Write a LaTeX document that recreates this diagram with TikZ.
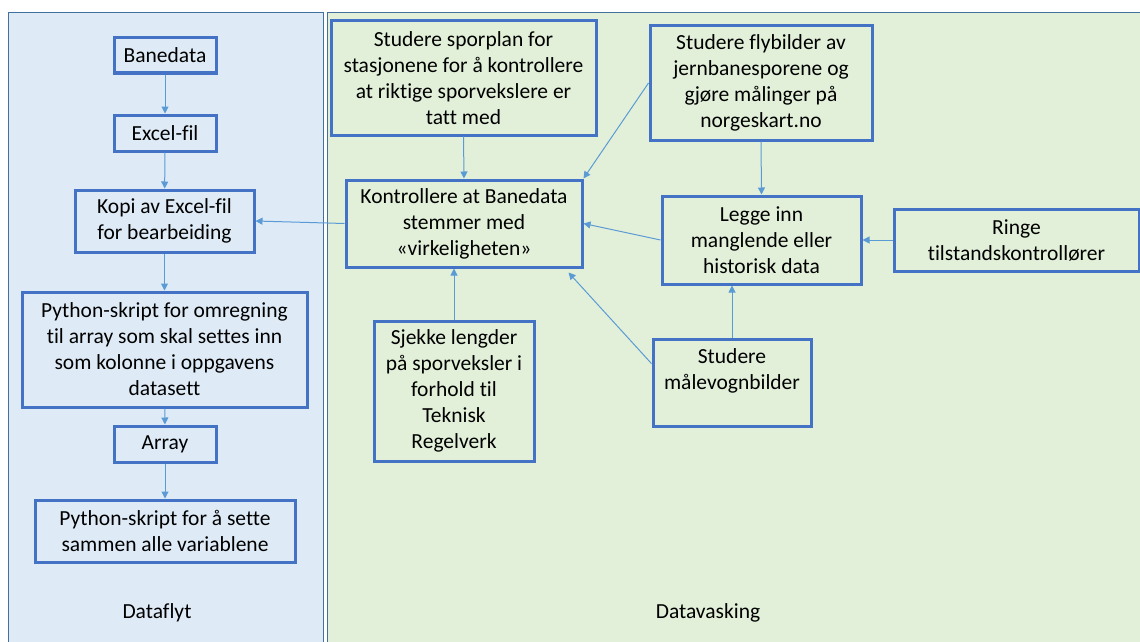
\documentclass[tikz,border=0pt]{standalone}
\usepackage{fontspec}
\setmainfont{Carlito}[RawFeature=-liga]
\usetikzlibrary{arrows.meta,calc}
\definecolor{panelblue}{HTML}{DEEBF7}
\definecolor{panelgreen}{HTML}{E2F0D9}
\definecolor{panelline}{HTML}{41719C}
\definecolor{boxline}{HTML}{4472C4}
\definecolor{arrowc}{HTML}{5B9BD5}
\begin{document}
\begin{tikzpicture}[x=1pt,y=-1pt,
  box/.style={draw=boxline, line width=3pt, align=center, inner sep=0pt, font=\fontsize{21.5}{26}\selectfont},
  arr/.style={draw=arrowc, line width=1pt, -{Triangle[length=7pt,width=7pt]}},
  lbl/.style={font=\fontsize{21.5}{26}\selectfont}]
\useasboundingbox (0,0) rectangle (1140,642);
\fill[white] (0,0) rectangle (1140,642);
\draw[fill=panelblue, draw=panelline, line width=1pt] (8,13) rectangle (323,660);
\draw[fill=panelgreen, draw=panelline, line width=1pt] (327,13) rectangle (1160,660);
% Dataflyt column
\node[box, minimum width=102pt, minimum height=35pt] (bane) at (165,55.5) {Banedata};
\node[box, minimum width=102pt, minimum height=36pt] (excel) at (165,133) {Excel-fil};
\node[box, minimum width=179pt, minimum height=62pt] (kopi) at (164.5,221) {Kopi av Excel-fil\\for bearbeiding};
\node[box, minimum width=285pt, minimum height=115pt] (py1) at (164.5,349.5) {Python-skript for omregning\\til array som skal settes inn\\som kolonne i oppgavens\\datasett};
\node[box, minimum width=102pt, minimum height=36pt] (array) at (165,444) {Array};
\node[box, minimum width=260pt, minimum height=62pt] (py2) at (165,531) {Python-skript for å sette\\sammen alle variablene};
\node[lbl] (dataflyt) at (157,613) {Dataflyt};
% Datavasking
\node[box, minimum width=265pt, minimum height=114pt] (spor) at (463.5,78) {Studere sporplan for\\stasjonene for å kontrollere\\at riktige sporvekslere er\\tatt med};
\node[box, minimum width=236pt, minimum height=87pt] (kontroll) at (464,223.5) {Kontrollere at Banedata\\stemmer med\\«virkeligheten»};
\node[box, minimum width=222pt, minimum height=114pt] (fly) at (761,83) {Studere flybilder av\\jernbanesporene og\\gjøre målinger på\\norgeskart.no};
\node[box, minimum width=199pt, minimum height=88pt] (legge) at (761.5,240) {Legge inn\\manglende eller\\historisk data};
\node[box, minimum width=245pt, minimum height=62pt] (ringe) at (1016.5,240) {Ringe\\tilstandskontrollører};
\node[box, minimum width=160pt, minimum height=140pt] (sjekke) at (454,391) {Sjekke lengder\\på sporveksler i\\forhold til\\Teknisk\\Regelverk};
\node[box, minimum width=158pt, minimum height=87pt] (maale) at (732,382.5) {Studere\\målevognbilder\\~};
\node[lbl] (datavask) at (708,613) {Datavasking};
% connectors
\draw[arr] (bane) -- (excel);
\draw[arr] (excel) -- (kopi);
\draw[arr] (kopi) -- (py1);
\draw[arr] (py1) -- (array);
\draw[arr] (array) -- (py2);
\draw[arr] (kontroll.west) -- (kopi.east);
\draw[arr] (spor.south) -- (kontroll.north);
\draw[arr] (fly.west) -- (kontroll.north east);
\draw[arr] (legge.west) -- (kontroll.east);
\draw[arr] (fly.south) -- (legge.north);
\draw[arr] (ringe.west) -- (legge.east);
\draw[arr] (sjekke.north) -- (sjekke.north |- kontroll.south);
\draw[arr] ($(maale.north west)!0.29!(maale.south west)$) -- ($(kontroll.south east)+(-15,4)$);
\draw[arr] (maale.north) -- (maale.north |- legge.south);
\end{tikzpicture}
\end{document}
